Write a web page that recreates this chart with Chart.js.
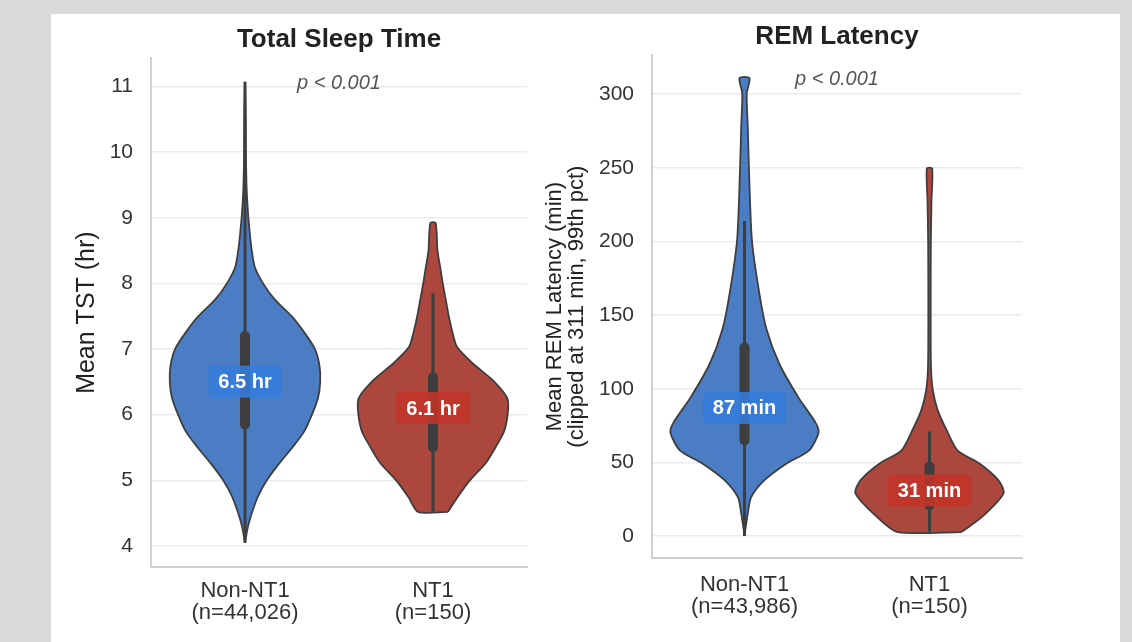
<!DOCTYPE html>
<html>
<head>
<meta charset="utf-8">
<script src="https://cdn.jsdelivr.net/npm/chart.js@4.4.1/dist/chart.umd.min.js"></script>
<style>
  html, body { margin: 0; padding: 0; }
  body { width: 1132px; height: 642px; background: #dadada; position: relative; overflow: hidden; }
  #panel { position: absolute; left: 51px; top: 14px; width: 1069px; height: 628px; background: #ffffff; }
  canvas { position: absolute; top: 14px; }
  #tstChart { left: 52px; }
  #remChart { left: 533px; }
</style>
</head>
<body>
<div id="panel"></div>
<canvas id="tstChart" width="481" height="628"></canvas>
<canvas id="remChart" width="587" height="628"></canvas>
<script>
// Categories (x labels)
const tstCategories = [['Non-NT1', '(n=44,026)'], ['NT1', '(n=150)']];
const remCategories = [['Non-NT1', '(n=43,986)'], ['NT1', '(n=150)']];

// Tick labels
const tstTicks = [4, 5, 6, 7, 8, 9, 10, 11];
const remTicks = [0, 50, 100, 150, 200, 250, 300];

// Violin outlines: value along y and relative density (1 = widest)
const tstNonNt1Values  = [4.05, 4.3, 4.5, 4.75, 5.0, 5.25, 5.5, 5.75, 6.0, 6.25, 6.5, 6.75, 7.0, 7.25, 7.5, 7.75, 8.0, 8.25, 8.5, 8.75, 9.0, 9.25, 9.5, 10.0, 10.5, 11.07];
const tstNonNt1Density = [0, 0.04, 0.09, 0.17, 0.29, 0.45, 0.63, 0.79, 0.89, 0.97, 1.0, 0.99, 0.93, 0.79, 0.62, 0.4, 0.24, 0.13, 0.09, 0.065, 0.045, 0.03, 0.02, 0.012, 0.01, 0];
const tstNt1Values  = [4.52, 4.75, 5.0, 5.26, 5.5, 5.76, 6.1, 6.27, 6.53, 6.78, 7.03, 7.25, 7.5, 7.75, 8.0, 8.25, 8.5, 8.92];
const tstNt1Density = [0.2, 0.33, 0.49, 0.7, 0.83, 0.95, 1.0, 0.98, 0.79, 0.53, 0.32, 0.26, 0.21, 0.17, 0.13, 0.095, 0.06, 0.035];

const remNonNt1Values  = [0.5, 15.6, 26.5, 38, 49, 58, 70, 77, 94, 117, 140, 165, 201, 250, 277, 300.5, 311];
const remNonNt1Density = [0, 0.045, 0.09, 0.27, 0.56, 0.87, 1.0, 0.96, 0.73, 0.47, 0.3, 0.2, 0.1, 0.06, 0.045, 0.03, 0.067];
const remNt1Values  = [2.7, 13, 29, 38, 49.5, 58, 72, 85.5, 99, 115, 149, 199, 228, 249.6];
const remNt1Density = [0.43, 0.71, 1.0, 0.93, 0.67, 0.38, 0.23, 0.11, 0.045, 0.02, 0.016, 0.018, 0.027, 0.036];

// Inner box: quartiles, whiskers and the labelled mean
const tstQ1 = [5.85, 5.5];
const tstQ3 = [7.2, 6.57];
const tstWhiskerLow = [4.05, 4.52];
const tstWhiskerHigh = [11.07, 7.85];
const tstMeans = [6.5, 6.1];

const remQ1 = [65, 21];
const remQ3 = [128, 47];
const remWhiskerLow = [0, 2.7];
const remWhiskerHigh = [214, 71];
const remMeans = [87, 31];

const FONT = "'Liberation Sans', Arial, Helvetica, sans-serif";
const VIOLIN_HALF = 0.4;
const fills = ['#4a7dc3', '#ab473d'];
const labelFills = ['rgba(52, 124, 218, 0.88)', 'rgba(196, 52, 40, 0.85)'];
const INK = '#3e3e3e';

function violinOutline(center, values, density) {
    const right = values.map((v, i) => ({x: center + VIOLIN_HALF * density[i], y: v}));
    const left = values.map((v, i) => ({x: center - VIOLIN_HALF * density[i], y: v})).reverse();
    return right.concat(left, [right[0]]);
}

function roundRect(ctx, x, y, w, h, r) {
    ctx.beginPath();
    ctx.moveTo(x + r, y);
    ctx.lineTo(x + w - r, y);
    ctx.quadraticCurveTo(x + w, y, x + w, y + r);
    ctx.lineTo(x + w, y + h - r);
    ctx.quadraticCurveTo(x + w, y + h, x + w - r, y + h);
    ctx.lineTo(x + r, y + h);
    ctx.quadraticCurveTo(x, y + h, x, y + h - r);
    ctx.lineTo(x, y + r);
    ctx.quadraticCurveTo(x, y, x + r, y);
    ctx.closePath();
}

function makeViolinChart(id, cfg) {
    const datasets = [];
    cfg.violins.forEach((vi, i) => {
        // lower order is painted last, so the box sits on top of the violin
        datasets.push({
            order: 0,
            data: [{x: i, y: cfg.q1[i]}, {x: i, y: cfg.q3[i]}],
            showLine: true,
            borderColor: INK,
            borderWidth: 10,
            borderCapStyle: 'round',
            pointRadius: 0
        });
        datasets.push({
            order: 1,
            data: [{x: i, y: cfg.whiskerLow[i]}, {x: i, y: cfg.whiskerHigh[i]}],
            showLine: true,
            borderColor: INK,
            borderWidth: 3,
            pointRadius: 0
        });
        datasets.push({
            order: 2,
            data: violinOutline(i, vi.values, vi.density),
            showLine: true,
            fill: 'shape',
            backgroundColor: fills[i],
            borderColor: INK,
            borderWidth: 1.8,
            pointRadius: 0,
            tension: 0.25
        });
    });

    const notes = {
        id: 'notes' + id,
        afterDatasetsDraw(chart) {
            const ctx = chart.ctx;
            const area = chart.chartArea;
            const xs = chart.scales.x, ys = chart.scales.y;
            ctx.save();
            ctx.font = 'italic 20px ' + FONT;
            ctx.fillStyle = '#555555';
            ctx.textAlign = 'center';
            ctx.textBaseline = 'middle';
            ctx.fillText('p < 0.001', (area.left + area.right) / 2, area.top + cfg.pTextOffset);

            ctx.font = 'bold 20px ' + FONT;
            cfg.means.forEach((m, i) => {
                const txt = cfg.labelFormat(m);
                const w = ctx.measureText(txt).width + 20;
                const h = 32;
                const cx = xs.getPixelForValue(i);
                const cy = ys.getPixelForValue(m);
                ctx.fillStyle = labelFills[i];
                roundRect(ctx, cx - w / 2, cy - h / 2, w, h, 4);
                ctx.fill();
                ctx.fillStyle = '#ffffff';
                ctx.fillText(txt, cx, cy + 1);
            });
            ctx.restore();
        }
    };

    return new Chart(document.getElementById(id), {
        type: 'scatter',
        data: {datasets},
        plugins: [notes],
        options: {
            responsive: false,
            animation: false,
            layout: {padding: {right: cfg.padRight, left: 0, top: 0, bottom: 0}},
            plugins: {
                legend: {display: false},
                tooltip: {enabled: false},
                title: {
                    display: true,
                    text: cfg.title,
                    fullSize: false,
                    color: '#222222',
                    font: {family: FONT, size: 26, weight: 'bold', lineHeight: 1.2},
                    padding: {top: cfg.titleTop, bottom: cfg.titleBottom}
                }
            },
            scales: {
                x: {
                    type: 'linear',
                    min: -0.5,
                    max: 1.5,
                    afterBuildTicks: s => { s.ticks = cfg.categories.map((c, i) => ({value: i})); },
                    afterFit: s => { s.height = cfg.xHeight; },
                    ticks: {
                        callback: v => cfg.categories[v],
                        color: '#333333',
                        font: {family: FONT, size: 22, lineHeight: 1.0},
                        padding: cfg.xPad,
                        maxRotation: 0
                    },
                    grid: {display: false, drawTicks: false},
                    border: {color: '#cfcfcf', width: 2}
                },
                y: {
                    min: cfg.yMin,
                    max: cfg.yMax,
                    afterBuildTicks: s => { s.ticks = cfg.ticks.map(v => ({value: v})); },
                    afterFit: s => { s.width = cfg.yWidth; },
                    ticks: {
                        color: '#333333',
                        font: {family: FONT, size: 21},
                        padding: 18
                    },
                    grid: {color: '#ebebeb', lineWidth: 1.5, drawTicks: false},
                    border: {color: '#cfcfcf', width: 2},
                    title: {
                        display: true,
                        text: cfg.yTitle,
                        color: '#222222',
                        font: {family: FONT, size: cfg.yTitleSize, lineHeight: cfg.yTitleLine},
                        padding: {top: cfg.yTitlePad, bottom: 0}
                    }
                }
            }
        }
    });
}

makeViolinChart('tstChart', {
    title: 'Total Sleep Time',
    categories: tstCategories,
    ticks: tstTicks,
    yMin: 3.68,
    yMax: 11.43,
    violins: [
        {values: tstNonNt1Values, density: tstNonNt1Density},
        {values: tstNt1Values, density: tstNt1Density}
    ],
    q1: tstQ1, q3: tstQ3, whiskerLow: tstWhiskerLow, whiskerHigh: tstWhiskerHigh,
    means: tstMeans,
    labelFormat: m => m.toFixed(1) + ' hr',
    yTitle: 'Mean TST (hr)',
    yTitleSize: 25,
    yTitleLine: 1.1,
    yTitlePad: 21,
    yWidth: 99,
    xHeight: 75,
    xPad: 13,
    padRight: 6,
    titleTop: 10,
    titleBottom: 3,
    pTextOffset: 25
});

makeViolinChart('remChart', {
    title: 'REM Latency',
    categories: remCategories,
    ticks: remTicks,
    yMin: -14.9,
    yMax: 326.5,
    violins: [
        {values: remNonNt1Values, density: remNonNt1Density},
        {values: remNt1Values, density: remNt1Density}
    ],
    q1: remQ1, q3: remQ3, whiskerLow: remWhiskerLow, whiskerHigh: remWhiskerHigh,
    means: remMeans,
    labelFormat: m => m + ' min',
    yTitle: ['Mean REM Latency (min)', '(clipped at 311 min, 99th pct)'],
    yTitleSize: 22,
    yTitleLine: 1.0,
    yTitlePad: 11,
    yWidth: 119,
    xHeight: 84,
    xPad: 16,
    padRight: 98,
    titleTop: 7,
    titleBottom: 3,
    pTextOffset: 24
});
</script>
</body>
</html>
